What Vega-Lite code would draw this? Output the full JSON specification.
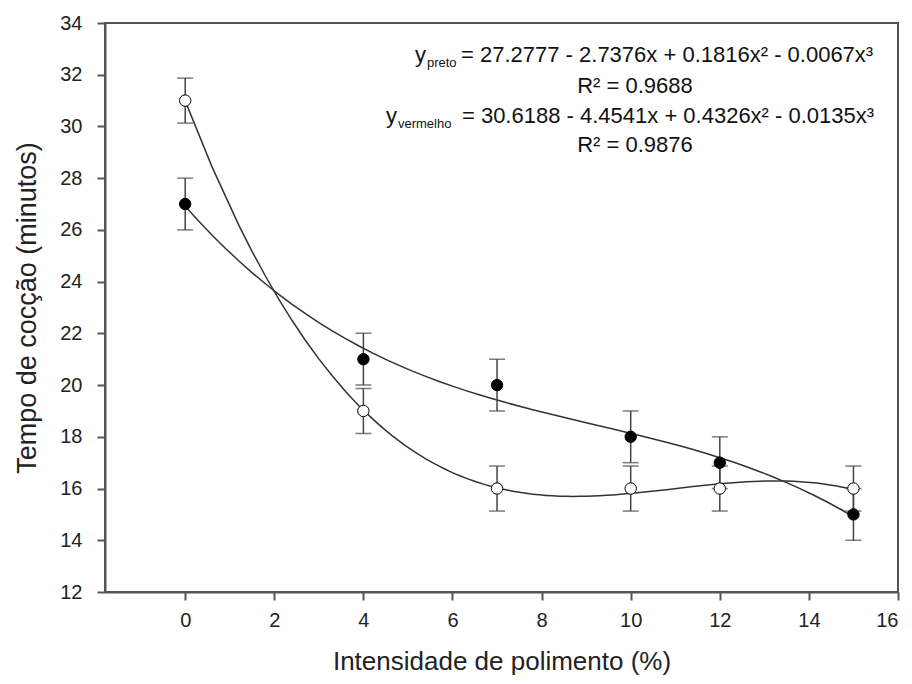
{
  "$schema": "https://vega.github.io/schema/vega-lite/v6.json",
  "width": 793,
  "height": 569,
  "autosize": {"type": "none"},
  "padding": {"left": 105, "top": 23, "right": 14, "bottom": 92},
  "background": "white",
  "config": {
    "font": "Liberation Sans",
    "view": {"stroke": "#555", "strokeWidth": 2},
    "axis": {
      "grid": false,
      "domainColor": "#555",
      "domainWidth": 2,
      "tickColor": "#555",
      "tickWidth": 2,
      "tickSize": 8,
      "labelFontSize": 20,
      "labelColor": "#222",
      "titleFontSize": 26,
      "titleFontWeight": "normal",
      "titleColor": "#222"
    }
  },
  "datasets": {
    "pts": [
      {"serie": "preto", "x": 0, "y": 27, "lo": 26, "hi": 28},
      {"serie": "preto", "x": 4, "y": 21, "lo": 20, "hi": 22},
      {"serie": "preto", "x": 7, "y": 20, "lo": 19, "hi": 21},
      {"serie": "preto", "x": 10, "y": 18, "lo": 17, "hi": 19},
      {"serie": "preto", "x": 12, "y": 17, "lo": 16, "hi": 18},
      {"serie": "preto", "x": 15, "y": 15, "lo": 14, "hi": 16},
      {"serie": "vermelho", "x": 0, "y": 31, "lo": 30.13, "hi": 31.87},
      {"serie": "vermelho", "x": 4, "y": 19, "lo": 18.13, "hi": 19.87},
      {"serie": "vermelho", "x": 7, "y": 16, "lo": 15.13, "hi": 16.87},
      {"serie": "vermelho", "x": 10, "y": 16, "lo": 15.13, "hi": 16.87},
      {"serie": "vermelho", "x": 12, "y": 16, "lo": 15.13, "hi": 16.87},
      {"serie": "vermelho", "x": 15, "y": 16, "lo": 15.13, "hi": 16.87}
    ],
    "left": [
      {"t": "y", "x": 5.157, "y": 32.481},
      {"t": "= 27.2777 - 2.7376x + 0.1816x² - 0.0067x³", "x": 6.191, "y": 32.481},
      {"t": "y", "x": 4.506, "y": 30.124},
      {"t": "= 30.6188 - 4.4541x + 0.4326x² - 0.0135x³", "x": 6.212, "y": 30.124}
    ],
    "center": [
      {"t": "R² = 0.9688", "x": 10.096, "y": 31.284},
      {"t": "R² = 0.9876", "x": 10.096, "y": 29.004}
    ],
    "sub": [
      {"t": "preto", "x": 5.427, "y": 32.288},
      {"t": "vermelho", "x": 4.775, "y": 29.931}
    ]
  },
  "encoding": {
    "x": {
      "field": "x", "type": "quantitative",
      "scale": {"domain": [-1.8, 16], "nice": false, "zero": false},
      "axis": {"values": [0, 2, 4, 6, 8, 10, 12, 14, 16], "title": "Intensidade de polimento (%)", "labelPadding": 10, "titlePadding": 18}
    },
    "y": {
      "field": "y", "type": "quantitative",
      "scale": {"domain": [12, 34], "nice": false, "zero": false},
      "axis": {"values": [12, 14, 16, 18, 20, 22, 24, 26, 28, 30, 32, 34], "title": "Tempo de cocção (minutos)", "labelPadding": 15, "titlePadding": 18, "titleFontSize": 27}
    }
  },
  "layer": [
    {
      "data": {"name": "pts"},
      "transform": [
        {"regression": "y", "on": "x", "groupby": ["serie"], "method": "poly", "order": 3, "extent": [0, 15]}
      ],
      "mark": {"type": "line", "color": "#333", "strokeWidth": 1.5},
      "encoding": {"detail": {"field": "serie"}}
    },
    {
      "data": {"name": "pts"},
      "mark": {"type": "rule", "color": "#444", "strokeWidth": 1.5},
      "encoding": {"y": {"field": "lo", "type": "quantitative"}, "y2": {"field": "hi"}}
    },
    {
      "data": {"name": "pts"},
      "mark": {"type": "tick", "orient": "horizontal", "color": "#444", "size": 16, "thickness": 1.5},
      "encoding": {"y": {"field": "lo", "type": "quantitative"}}
    },
    {
      "data": {"name": "pts"},
      "mark": {"type": "tick", "orient": "horizontal", "color": "#444", "size": 16, "thickness": 1.5},
      "encoding": {"y": {"field": "hi", "type": "quantitative"}}
    },
    {
      "data": {"name": "pts"},
      "mark": {"type": "point", "filled": true, "size": 130, "stroke": "black", "strokeWidth": 1, "opacity": 1},
      "encoding": {
        "fill": {"field": "serie", "type": "nominal", "scale": {"domain": ["preto", "vermelho"], "range": ["black", "white"]}, "legend": null}
      }
    },
    {
      "data": {"name": "left"},
      "mark": {"type": "text", "fontSize": 22, "baseline": "alphabetic", "align": "left", "color": "#111"},
      "encoding": {"text": {"field": "t"}}
    },
    {
      "data": {"name": "center"},
      "mark": {"type": "text", "fontSize": 22, "baseline": "alphabetic", "align": "center", "color": "#111"},
      "encoding": {"text": {"field": "t"}}
    },
    {
      "data": {"name": "sub"},
      "mark": {"type": "text", "fontSize": 13, "baseline": "alphabetic", "align": "left", "color": "#111"},
      "encoding": {"text": {"field": "t"}}
    }
  ]
}
